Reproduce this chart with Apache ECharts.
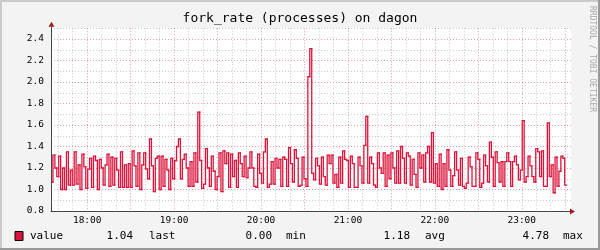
<!DOCTYPE html>
<html><head><meta charset="utf-8">
<script src="https://cdn.jsdelivr.net/npm/echarts@6/dist/echarts.min.js"></script>
<style>html,body{margin:0;padding:0;background:#f3f3f3}#c{width:600px;height:250px}</style>
</head><body><div id="c"></div>
<script>
// ---- data ----
const chartTitle = 'fork_rate (processes) on dagon';
const watermark = 'RRDTOOL / TOBI OETIKER';
const seriesName = 'value';
const startMinute = 17 * 60 + 35;      // 17:35
const axisMinMinute = 17 * 60 + 35;    // 17:35
const axisMaxMinute = 23 * 60 + 34;    // 23:34
const stepSeconds = 80;
const yMin = 0.8, yMax = 2.5, yStep = 0.1;
// 17:35 - 19:40
const valuesA = [1.07,1.32,1.2,1.12,1.31,1.0,1.2,1.0,1.35,1.04,1.18,1.04,1.35,1.05,1.23,1.0,1.33,1.21,1.01,1.19,
  1.29,1.02,1.31,1.27,1.0,1.28,1.2,1.04,1.23,1.33,1.03,1.3,1.04,1.29,1.18,1.02,1.35,1.02,1.23,1.02,
  1.24,1.02,1.36,1.22,1.03,1.34,1.0,1.23,1.34,1.19,1.1,1.47,1.22,0.98,1.29,1.31,1.0,1.31,1.03,1.28,
  1.18,1.0,1.29,1.1,1.27,1.4,1.47,1.1,1.28,1.33,1.2,1.03,1.26,1.03,1.34,1.07,1.72,1.27,1.01,1.05,
  1.38,1.2,1.03,1.31,1.17,1.0,1.12,1.34,0.98,1.36,1.24,1.34,1.02,1.33];
// 19:40 - 21:53
const valuesB = [1.12,1.27,1.02,1.34,1.24,1.12,1.31,1.11,1.2,1.35,
  1.2,1.03,1.02,1.33,1.15,1.06,1.35,1.47,1.02,1.05,
  1.26,1.05,1.29,1.2,1.28,1.03,1.3,1.28,1.03,1.39,
  1.24,1.07,1.37,1.29,1.03,1.04,1.3,1.1,1.03,2.05,
  2.31,1.15,1.09,1.29,1.22,1.05,1.3,1.12,1.04,1.32,
  1.24,1.32,1.06,1.14,1.02,1.3,1.06,1.36,1.28,1.27,
  1.02,1.31,1.24,1.02,1.02,1.3,1.22,1.06,1.41,1.68,
  1.06,1.3,1.24,1.04,1.02,1.34,1.2,1.15,1.34,1.03,
  1.32,1.1,1.34,1.2,1.06,1.36,1.06,1.4,1.29,1.06,
  1.34,1.31,1.04,1.28,1.14,1.02,1.34,1.2,1.32,1.07];
// 21:53 - 23:31
const valuesC = [1.34,1.4,1.07,1.53,1.06,1.24,1.03,1.33,1.0,1.24,
  1.03,1.37,1.18,1.03,1.13,1.35,1.18,1.04,1.29,1.03,
  1.01,1.06,1.3,1.21,1.03,1.03,1.34,1.28,1.02,1.06,
  1.32,1.22,1.07,1.44,1.3,1.03,1.35,1.25,1.07,1.26,
  1.03,1.26,1.34,1.26,1.03,1.26,1.31,1.23,1.09,1.18,
  1.64,1.07,1.12,1.31,1.22,1.12,1.07,1.38,1.35,1.12,
  1.36,1.03,1.03,1.62,1.12,1.23,0.97,1.3,1.03,1.17,
  1.31,1.29,1.04];
const legendValues = ['1.04', '0.00', '1.18', '4.78'];
const legendLabels = ['last', 'min', 'avg', 'max'];

// ---- build: one step record per value [start, end, value, previous value] ----
const values = valuesA.concat(valuesB, valuesC);
const stepMin = stepSeconds / 60;
const stepData = values.map((v, i) => [
  startMinute + i * stepMin,
  startMinute + (i + 1) * stepMin,
  v,
  i === 0 ? v : values[i - 1]
]);

const LINE = '#DC143C';
const GREY = 'rgba(140,140,140,0.45)';
const RED = 'rgba(200,40,40,0.45)';
const AXIS = '#444';
const ARROW = '#9a1c1c';
const MONO = 'DejaVu Sans Mono';
const pad = n => (n < 10 ? '0' : '') + n;

const legendValueRight = [133, 272, 410, 549];
const legendLabelLeft = [149, 286, 425, 563];
const graphics = [
  {type:'rect', shape:{x:0,y:0,width:600,height:2}, style:{fill:'#cbcbcb'}, silent:true},
  {type:'rect', shape:{x:0,y:0,width:2,height:250}, style:{fill:'#cbcbcb'}, silent:true},
  {type:'rect', shape:{x:598,y:0,width:2,height:250}, style:{fill:'#999'}, silent:true},
  {type:'rect', shape:{x:0,y:248,width:600,height:2}, style:{fill:'#999'}, silent:true},
  {type:'text', x:300, y:19, style:{text:chartTitle, font:'13px "' + MONO + '"', fill:'#000', textAlign:'center', textVerticalAlign:'middle'}},
  {type:'text', x:592, y:59, rotation:-Math.PI/2, style:{text:watermark, font:'8px "' + MONO + '"', fill:'#a8a8a8', textAlign:'center', textVerticalAlign:'middle'}},
  {type:'rect', shape:{x:15,y:231.5,width:8,height:9}, style:{fill:LINE, stroke:'#000', lineWidth:1}},
  {type:'text', x:30, y:236.5, style:{text:seriesName, font:'11px "' + MONO + '"', fill:'#000', textVerticalAlign:'middle'}}
];
legendValues.forEach((v, i) => {
  graphics.push({type:'text', x:legendValueRight[i], y:236.5, style:{text:v, font:'11px "' + MONO + '"', fill:'#000', textAlign:'right', textVerticalAlign:'middle'}});
  graphics.push({type:'text', x:legendLabelLeft[i], y:236.5, style:{text:legendLabels[i], font:'11px "' + MONO + '"', fill:'#000', textVerticalAlign:'middle'}});
});

function renderStep(params, api) {
  const t0 = api.value(0), t1 = api.value(1), v = api.value(2), pv = api.value(3);
  const a = api.coord([t0, pv]);
  const b = api.coord([t0, v]);
  const c = api.coord([t1, v]);
  return {
    type: 'polyline',
    shape: {points: [a, b, c]},
    style: {stroke: LINE, fill: null, lineWidth: 1.3, lineJoin: 'miter', lineCap: 'square'},
    silent: true
  };
}

const chart = echarts.init(document.getElementById('c'), null, {renderer:'canvas'});
chart.setOption({
  animation: false,
  backgroundColor: '#f3f3f3',
  grid: {left:51, top:28.25, width:520, height:182.75, show:true, backgroundColor:'#fff', borderWidth:0, containLabel:false, outerBoundsMode:'none'},
  xAxis: {
    type:'value', min:axisMinMinute, max:axisMaxMinute, interval:5,
    axisLine:{show:true, onZero:false, lineStyle:{color:AXIS, width:1}},
    axisTick:{show:false},
    axisLabel:{margin:5, color:'#000', fontFamily:MONO, fontSize:9.5,
      formatter: v => (Math.round(v) % 60 === 0 ? pad(Math.round(v) / 60) + ':00' : '')},
    splitLine:{show:true, showMinLine:true, showMaxLine:false,
      lineStyle:{color:['transparent', GREY, 'transparent', GREY, 'transparent', RED], type:[1,2], width:1}}
  },
  yAxis: {
    type:'value', min:yMin, max:yMax, interval:yStep,
    axisLine:{show:true, onZero:false, lineStyle:{color:AXIS, width:1}},
    axisTick:{show:false},
    axisLabel:{margin:7, color:'#000', fontFamily:MONO, fontSize:9.5,
      formatter: v => (Math.round(v * 10) % 2 === 0 ? v.toFixed(1) : '')},
    splitLine:{show:true, showMinLine:true, showMaxLine:true,
      lineStyle:{color:[RED, GREY], type:[1,2], width:1}}
  },
  series: [{
    name: seriesName, type:'custom', clip:true,
    encode: {x:[0,1], y:[2,3]},
    renderItem: renderStep,
    data: stepData
  }],
  graphic: graphics
});

// axis arrows (rrdtool style), placed from the axes' own ends
const origin = chart.convertToPixel({gridIndex:0}, [axisMinMinute, yMin]);
const corner = chart.convertToPixel({gridIndex:0}, [axisMaxMinute, yMax]);
const ox = Math.round(origin[0]) + 0.5, oy = Math.round(origin[1]) + 0.5;
const ex = corner[0] - 1, ty = corner[1] - 1.5;
chart.setOption({graphic: graphics.concat([
  {type:'line', shape:{x1:ox, y1:ty, x2:ox, y2:corner[1] + 1}, style:{stroke:AXIS, lineWidth:1}, z:50},
  {type:'polygon', shape:{points:[[ex, oy - 3], [ex + 5, oy], [ex, oy + 3]]}, style:{fill:ARROW}, z:50},
  {type:'polygon', shape:{points:[[ox - 3, ty], [ox, ty - 5], [ox + 3, ty]]}, style:{fill:ARROW}, z:50}
])});
</script></body></html>
